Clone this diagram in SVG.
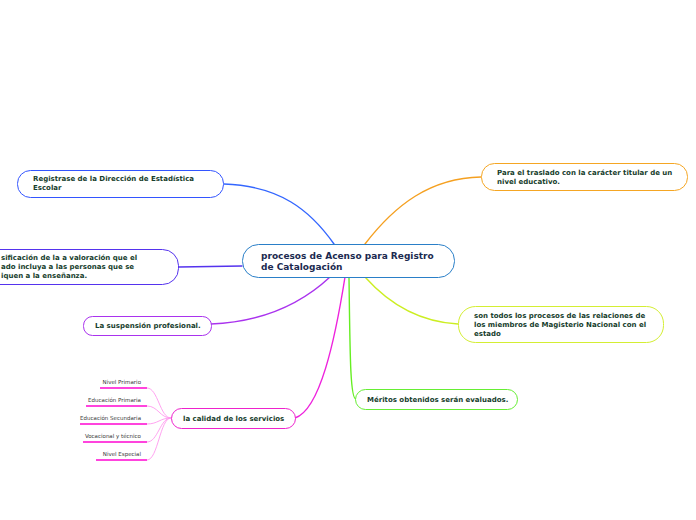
<svg xmlns="http://www.w3.org/2000/svg" width="696" height="520" viewBox="0 0 696 520">
<style>
.n{fill:#fff;stroke-width:1}
.t{font-family:"DejaVu Sans",Verdana,sans-serif;font-weight:bold;font-size:7px;fill:#163d2c}
.c{font-family:"DejaVu Sans",Verdana,sans-serif;font-weight:bold;font-size:9px;fill:#1b2a50}
.s{font-family:"DejaVu Sans",Verdana,sans-serif;font-size:5.5px;fill:#3a3a3a;text-anchor:end}
.l{fill:none;stroke-width:1.4;stroke-linecap:round}
.u{fill:none;stroke:#ff44dd;stroke-width:2}
.b{fill:none;stroke:#ff99ee;stroke-width:0.9}
</style>
<rect width="696" height="520" fill="#fff"/>
<g id="connectors">
<path class="l" stroke="#3366ff" d="M224,184 C280,186 310,210 334,244"/>
<path class="l" stroke="#5533ee" d="M179,267 L242,266"/>
<path class="l" stroke="#aa33ee" d="M211,324 C260,322 300,305 330,277"/>
<path class="l" stroke="#ee22dd" d="M295,418 C320,410 335,340 345,277"/>
<path class="l" stroke="#66ee22" d="M349,277 C350,350 350,399 356,399"/>
<path class="l" stroke="#ccee22" d="M458,324 C420,322 390,305 365,277"/>
<path class="l" stroke="#f5a020" d="M481,177 C430,178 395,205 365,244"/>
<path class="b" d="M171,418 C160,418 158,388 147,388"/>
<path class="b" d="M171,418 C160,418 158,406 147,406"/>
<path class="b" d="M171,418 C160,418 158,424 147,424"/>
<path class="b" d="M171,418 C160,418 158,442 147,442"/>
<path class="b" d="M171,418 C160,418 158,460 147,460"/>
</g>
<g id="central">
<rect class="n" x="242.5" y="244.5" width="212" height="33" rx="16" stroke="#2a7fc8"/>
<text class="c" x="261" y="259">procesos de Acenso para Registro</text>
<text class="c" x="261" y="270">de Catalogación</text>
</g>
<g id="registrase">
<rect class="n" x="17.5" y="170.5" width="206" height="27" rx="13" stroke="#3355ff"/>
<text class="t" x="33" y="181">Registrase de la Dirección  de Estadística</text>
<text class="t" x="33" y="190">Escolar</text>
</g>
<g id="clasificacion">
<rect class="n" x="-30" y="249.5" width="208.5" height="35" rx="16" stroke="#5533ee"/>
<text class="t" x="1" y="260">sificación de la a valoración que el</text>
<text class="t" x="1" y="269">ado incluya a las personas que se</text>
<text class="t" x="1" y="278">iquen a la enseñanza.</text>
</g>
<g id="suspension">
<rect class="n" x="83.5" y="316.5" width="128" height="19" rx="9" stroke="#aa33ee"/>
<text class="t" x="95" y="328">La suspensión profesional.</text>
</g>
<g id="calidad">
<rect class="n" x="171.5" y="408.5" width="124" height="20" rx="10" stroke="#ee22cc"/>
<text class="t" x="183" y="421">la calidad de los servicios</text>
</g>
<g id="sub1"><text class="s" x="141" y="384">Nivel Primario</text><path class="u" d="M100,388 H147"/></g>
<g id="sub2"><text class="s" x="141" y="402">Educación Primaria</text><path class="u" d="M86,406 H147"/></g>
<g id="sub3"><text class="s" x="141" y="420">Educación Secundaria</text><path class="u" d="M80,424 H147"/></g>
<g id="sub4"><text class="s" x="141" y="438">Vocacional y técnico</text><path class="u" d="M83,442 H147"/></g>
<g id="sub5"><text class="s" x="141" y="456">Nivel Especial</text><path class="u" d="M96,460 H147"/></g>
<g id="traslado">
<rect class="n" x="481.5" y="163.5" width="206" height="27" rx="13" stroke="#f5a623"/>
<text class="t" x="497" y="175">Para el traslado con la carácter titular de un</text>
<text class="t" x="497" y="184">nivel educativo.</text>
</g>
<g id="procesos">
<rect class="n" x="458.5" y="306.5" width="205" height="36" rx="17" stroke="#d4ee33"/>
<text class="t" x="474" y="318">son todos los procesos de las relaciones de</text>
<text class="t" x="474" y="327">los miembros de Magisterio Nacional con el</text>
<text class="t" x="474" y="336">estado</text>
</g>
<g id="meritos">
<rect class="n" x="355.5" y="389.5" width="162" height="20" rx="10" stroke="#66ee33"/>
<text class="t" x="367" y="402">Méritos obtenidos serán evaluados.</text>
</g>
</svg>
